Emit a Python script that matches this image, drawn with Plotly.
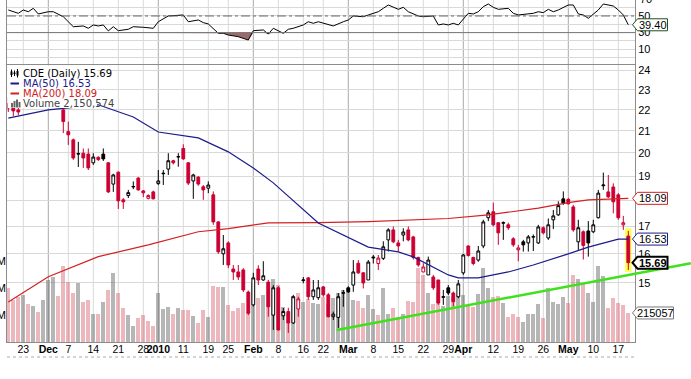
import math
import plotly.graph_objects as go

# ---------------- data ----------------
tick_idx = [3, 8, 12, 17, 22, 27, 30, 35, 40, 44, 49, 54, 59, 63, 68, 73, 78, 83, 88, 91, 92, 97, 102, 107, 112, 117, 122]
tick_text = ["23", "<b>Dec</b>", "7", "14", "21", "28", "<b>2010</b>", "11", "19", "25", "<b>Feb</b>", "8", "16", "22",
             "<b>Mar</b>", "8", "15", "22", "29", "<b>Apr</b>", "", "12", "19", "26", "<b>May</b>", "10", "17"]
month_idx = [8, 30, 49, 68, 91, 112]

opens = [22.3, 22.2, 22.0, 22.15, 22.4, 22.2, 22.6, 22.3, 22.9, 23.6,
         24.0, 22.0, 20.97, 20.59, 19.95, 19.99, 19.95, 19.57, 19.81, 19.95,
         19.57, 18.67, 19.17, 18.03, 18.2, 18.55, 18.92, 18.39, 18.09, 18.35,
         18.69, 19.1, 19.3, 19.66, 19.82, 20.2, 19.57, 18.8, 18.96, 18.56,
         18.5, 18.23, 17.17, 16.0, 16.39, 15.47, 15.37, 15.44, 14.7, 14.29,
         15.47, 15.1, 15.03, 13.97, 14.84, 13.95, 14.08, 13.73, 14.16, 15.08,
         15.17, 14.55, 14.52, 14.87, 14.61, 13.92, 13.9, 14.66, 14.84, 14.93,
         15.67, 15.34, 15.1, 15.85, 15.66, 15.84, 16.5, 16.87, 16.39, 16.68,
         16.87, 16.61, 15.87, 15.37, 15.27, 15.2, 15.1, 14.53, 14.84, 14.67,
         14.55, 15.34, 16.28, 15.87, 15.78, 16.28, 17.33, 17.56, 17.14, 17.12,
         17.06, 16.54, 16.14, 16.43, 16.39, 16.6, 16.39, 16.95, 16.57, 17.25,
         17.44, 18.07, 18.05, 17.75, 16.43, 16.8, 16.83, 16.8, 17.33, 18.6,
         18.35, 18.55, 18.23, 17.06, 16.64]
highs = [22.6, 22.5, 22.4, 22.6, 22.6, 22.8, 22.7, 23.0, 23.8, 24.2,
         24.1, 22.1, 21.44, 20.65, 20.5, 20.2, 20.2, 19.99, 19.85, 20.2,
         19.6, 19.1, 19.2, 18.1, 18.43, 18.78, 18.96, 18.43, 18.25, 18.4,
         19.26, 19.26, 19.99, 19.7, 19.99, 20.39, 19.6, 19.1, 19.0, 18.63,
         18.78, 18.37, 17.2, 16.68, 16.45, 15.61, 15.61, 15.5, 14.75, 15.34,
         15.6, 15.74, 15.1, 14.93, 14.9, 14.19, 14.2, 14.61, 14.55, 15.2,
         15.2, 15.1, 15.1, 14.9, 14.67, 14.08, 14.67, 14.77, 14.89, 15.78,
         15.78, 15.37, 15.78, 15.96, 15.96, 16.45, 16.93, 17.0, 16.5, 16.93,
         17.0, 16.65, 15.9, 15.67, 15.9, 15.27, 15.1, 14.77, 14.93, 14.72,
         15.1, 16.0, 16.3, 15.9, 16.28, 17.25, 17.63, 17.92, 17.14, 17.19,
         17.14, 16.6, 16.32, 16.5, 16.68, 16.7, 17.06, 17.0, 17.3, 17.63,
         17.97, 18.37, 18.1, 17.83, 17.25, 16.85, 17.2, 17.25, 18.43, 19.15,
         19.05, 18.7, 18.3, 17.4, 16.83]
lows = [21.9, 21.7, 21.75, 22.1, 22.1, 22.1, 22.2, 22.2, 22.8, 23.4,
        22.9, 20.9, 20.36, 19.7, 19.39, 19.35, 19.26, 19.48, 19.65, 19.65,
        18.3, 18.35, 17.67, 17.67, 18.1, 18.46, 18.4, 18.14, 18.05, 18.05,
        18.63, 18.63, 19.05, 19.5, 19.4, 19.7, 18.63, 18.07, 18.6, 18.03,
        18.3, 17.06, 16.0, 15.61, 15.5, 15.1, 15.1, 14.7, 13.97, 14.24,
        14.93, 15.07, 13.92, 13.52, 13.5, 13.82, 13.43, 13.7, 13.92, 14.99,
        14.45, 14.45, 14.45, 14.55, 13.9, 13.82, 13.58, 14.23, 14.67, 14.71,
        15.3, 14.82, 15.1, 15.66, 15.44, 15.78, 16.08, 16.38, 16.08, 16.45,
        16.45, 15.8, 15.55, 15.37, 15.27, 14.77, 14.29, 14.29, 14.6, 14.24,
        14.5, 15.27, 15.9, 15.6, 15.72, 16.2, 17.2, 17.0, 16.32, 16.5,
        16.87, 16.25, 15.74, 16.08, 16.08, 16.1, 16.35, 16.7, 16.5, 16.9,
        17.4, 17.83, 17.85, 16.8, 16.14, 15.8, 15.9, 16.75, 17.3, 18.43,
        18.1, 17.5, 17.25, 16.87, 15.44]
closes = [22.1, 21.95, 21.9, 22.4, 22.2, 22.6, 22.3, 22.9, 23.6, 24.0,
          23.1, 21.44, 20.82, 19.78, 19.97, 19.78, 19.35, 19.82, 19.71, 19.74,
          18.35, 19.05, 17.99, 17.95, 18.32, 18.57, 18.43, 18.31, 18.2, 18.07,
          18.8, 19.12, 19.66, 19.57, 19.84, 19.74, 18.71, 19.05, 18.67, 18.43,
          18.63, 17.17, 16.07, 16.18, 15.61, 15.37, 15.2, 14.77, 14.03, 15.17,
          15.1, 15.24, 14.23, 14.84, 13.52, 14.08, 13.73, 14.55, 14.48, 15.1,
          14.55, 14.77, 14.84, 14.61, 13.92, 14.0, 14.55, 14.68, 14.71, 15.37,
          15.34, 15.0, 15.71, 15.88, 15.85, 16.25, 16.87, 16.43, 16.28, 16.79,
          16.5, 15.87, 15.61, 15.54, 15.78, 14.84, 14.35, 14.55, 14.67, 14.39,
          14.97, 15.96, 15.94, 15.66, 16.1, 17.17, 17.52, 17.06, 16.76, 17.14,
          16.95, 16.32, 16.21, 16.32, 16.61, 16.62, 16.98, 16.76, 17.06, 17.4,
          17.8, 17.9, 17.87, 16.87, 16.95, 16.3, 16.39, 17.06, 18.3, 18.63,
          18.15, 17.95, 17.33, 17.14, 15.69]
volumes_m = [3.98, 3.1, 3.36, 3.5, 2.8, 2.67, 2.2, 3.1, 4.6, 4.84,
             3.4, 5.6, 4.47, 3.6, 4.35, 3.0, 3.1, 2.1, 2.1, 3.0,
             3.85, 5.1, 3.6, 2.54, 2.0, 1.19, 1.8, 2.0, 1.58, 1.2,
             3.6, 2.47, 2.6, 2.05, 2.5, 2.37, 2.4, 1.93, 1.4, 2.37,
             1.83, 4.15, 4.1, 4.05, 2.77, 2.3, 2.5, 2.87, 2.25, 4.35,
             3.24, 3.48, 4.47, 4.64, 4.22, 2.6, 2.1, 3.4, 3.6, 3.0,
             3.16, 2.9, 2.8, 3.36, 2.8, 3.24, 3.6, 3.85, 3.98, 3.1,
             3.06, 2.5, 3.48, 2.42, 2.0, 3.98, 2.1, 2.5, 1.87, 2.07,
             3.06, 3.0, 5.46, 4.96, 3.6, 2.8, 3.6, 2.67, 3.4, 3.36,
             3.48, 3.48, 2.74, 2.6, 3.56, 5.46, 3.98, 3.36, 3.4, 2.9,
             1.87, 2.1, 1.87, 1.5, 2.07, 2.1, 2.8, 1.75, 3.98, 3.0,
             2.8, 3.36, 2.87, 5.0, 4.7, 4.3, 3.6, 3.0, 5.63, 4.9,
             2.5, 3.24, 2.9, 2.74, 2.150574]

ma50_idx = [0, 8, 18, 25, 30, 38, 44, 49, 53, 57, 62, 72, 78, 81, 85, 88, 90, 94, 100, 105, 112, 116, 122, 124]
ma50_val = [21.6, 22.0, 22.25, 21.66, 20.95, 20.68, 20.05, 19.35, 18.72, 18.0, 17.13, 16.24, 16.07, 15.89,
            15.54, 15.27, 15.17, 15.17, 15.37, 15.61, 16.0, 16.24, 16.53, 16.53]
ma200_idx = [0, 8, 18, 28, 38, 44, 52, 62, 72, 82, 88, 96, 106, 112, 116, 124]
ma200_val = [14.38, 15.21, 15.9, 16.32, 16.8, 16.92, 17.13, 17.14, 17.18, 17.27, 17.3, 17.44, 17.7, 17.92, 18.03, 18.09]

rsi_idx = [0, 2, 3, 4, 5, 6, 8, 9, 11, 12, 13, 15, 16, 17, 18, 19, 20, 21, 22, 24,
           25, 27, 29, 30, 32, 35, 36, 38, 39, 40, 42, 43, 44, 46, 48, 49, 51, 52, 53, 55,
           56, 57, 59, 60, 61, 62, 64, 65, 67, 68, 69, 71, 72, 74, 75, 76, 78, 79, 80, 82,
           83, 85, 86, 87, 88, 89, 90, 92, 93, 94, 95, 96, 97, 98, 100, 101, 102, 104, 105, 106,
           107, 108, 109, 110, 111, 112, 113, 114, 115, 116, 118, 119, 121, 122, 123, 124]
rsi_val = [57.2, 53.2, 57.2, 55.1, 59.2, 52.4, 55.1, 55.1, 49.1, 43.1, 37.1, 38.0, 35.2, 39.2, 38.0, 39.2, 32.0, 37.1, 32.3, 34.0,
           37.1, 36.4, 35.2, 43.1, 50.0, 51.2, 43.1, 45.2, 42.0, 40.4, 29.2, 29.2, 27.1, 25.1, 21.1, 32.3, 33.2, 28.3, 35.2, 29.2,
           34.0, 35.2, 39.2, 43.1, 41.2, 43.1, 39.2, 38.0, 43.1, 45.2, 50.0, 49.1, 51.2, 55.1, 59.2, 63.2, 58.0, 60.4, 55.1, 50.0,
           49.1, 50.0, 39.2, 40.4, 39.2, 41.2, 39.2, 53.2, 52.4, 55.1, 61.2, 64.4, 60.4, 58.0, 59.2, 53.2, 51.2, 52.4, 53.2, 55.1,
           54.0, 58.0, 55.1, 57.2, 60.4, 63.2, 63.2, 52.4, 51.2, 47.2, 57.2, 64.4, 62.0, 57.2, 51.2, 39.4]

trend_idx = [65.7, 136.5]
trend_price = [13.52, 15.67]

price_ticks = [15, 16, 17, 18, 19, 20, 21, 22, 23, 24]
rsi_ticks = [10, 30, 50]
vol_ticks = [2, 4, 6]

# ---------------- geometry / style ----------------
W, H = 691, 379
ML, MR, MT, MB = 7, 56, 0, 37
PW, PH = W - ML - MR, H - MT - MB
X_RANGE = [-0.26, 125.34]
PRICE_RANGE = [13.163, 24.30]
VOL_RANGE = [0, 20.52]
RSI_RANGE = [-8.9, 69.2]
PRICE_DOM = [0.0, 0.81]
RSI_DOM = [0.81, 1.0]

RED = "#cc0033"
NAVY = "#1b1b8a"
MA200C = "#d42020"
GRID = "#d9d9d9"
MGRID = "#a9a9a9"
BORDER = "#8c8c8c"
AXFONT = dict(family="Liberation Sans, Arial, sans-serif", size=11, color="black")
XFONT = dict(family="Liberation Sans, Arial, sans-serif", size=10.5, color="black")
LEGFONT = "DejaVu Sans, Verdana, sans-serif"

lp0, lp1 = math.log10(PRICE_RANGE[0]), math.log10(PRICE_RANGE[1])


def px_x(px):
    return (px - ML) / PW


def px_y(py):
    return (H - MB - py) / PH


def paper_to_py(yp):
    return H - MB - yp * PH


def idx_x(i):
    return (i - X_RANGE[0]) / (X_RANGE[1] - X_RANGE[0])


def price_y(p):
    return PRICE_DOM[0] + (math.log10(p) - lp0) / (lp1 - lp0) * (PRICE_DOM[1] - PRICE_DOM[0])


def vol_y(v):
    return PRICE_DOM[0] + (v - VOL_RANGE[0]) / (VOL_RANGE[1] - VOL_RANGE[0]) * (PRICE_DOM[1] - PRICE_DOM[0])


def rsi_y(r):
    return RSI_DOM[0] + (r - RSI_RANGE[0]) / (RSI_RANGE[1] - RSI_RANGE[0]) * (RSI_DOM[1] - RSI_DOM[0])


n = len(closes)
prev = [opens[0]] + closes[:-1]
xs = list(range(n))

fig = go.Figure()

# volume bars (base axis of the price panel)
vol_colors = ["rgba(110,110,110,0.5)" if closes[i] >= prev[i] else "rgba(215,95,110,0.45)" for i in range(n)]
fig.add_trace(go.Bar(x=xs, y=volumes_m, width=0.82, marker=dict(color=vol_colors, line=dict(width=0)),
                     xaxis="x2", yaxis="y2", hoverinfo="skip"))

# candles: hollow/filled by close vs open, black/red by close vs previous close
styles = [(True, False, "white", "black"), (False, False, "black", "black"),
          (True, True, "white", RED), (False, True, RED, RED)]
for hollow, red, fc, lc in styles:
    sel = [i for i in range(n) if (closes[i] >= opens[i]) == hollow and (closes[i] < prev[i]) == red]
    if not sel:
        continue
    st = dict(line=dict(color=lc, width=1), fillcolor=fc)
    fig.add_trace(go.Candlestick(x=sel, open=[opens[i] for i in sel], high=[highs[i] for i in sel],
                                 low=[lows[i] for i in sel], close=[closes[i] for i in sel],
                                 increasing=st, decreasing=st, whiskerwidth=0,
                                 xaxis="x2", yaxis="y3", hoverinfo="skip"))

fig.add_trace(go.Scatter(x=ma200_idx, y=ma200_val, mode="lines", line=dict(color=MA200C, width=1.2),
                         xaxis="x2", yaxis="y3", hoverinfo="skip"))
fig.add_trace(go.Scatter(x=ma50_idx, y=ma50_val, mode="lines", line=dict(color=NAVY, width=1.2),
                         xaxis="x2", yaxis="y3", hoverinfo="skip"))

# RSI panel
fig.add_trace(go.Scatter(x=rsi_idx, y=[30] * len(rsi_idx), mode="lines", line=dict(width=0),
                         xaxis="x", yaxis="y", hoverinfo="skip"))
fig.add_trace(go.Scatter(x=rsi_idx, y=[min(v, 30) for v in rsi_val], mode="lines", line=dict(width=0),
                         fill="tonexty", fillcolor="#9b6b6b", xaxis="x", yaxis="y", hoverinfo="skip"))
fig.add_trace(go.Scatter(x=rsi_idx, y=rsi_val, mode="lines", line=dict(color="black", width=1),
                         xaxis="x", yaxis="y", hoverinfo="skip"))

shapes = []
# vertical grid (weeks light, months darker)
for i in tick_idx:
    shapes.append(dict(type="line", xref="x2", yref="paper", x0=i, x1=i, y0=0, y1=1, layer="below",
                       line=dict(color=MGRID if i in month_idx else GRID, width=1)))
# RSI reference lines
shapes.append(dict(type="line", xref="paper", yref="y", x0=0, x1=1, y0=50, y1=50,
                   line=dict(color="#666666", width=1, dash="dashdot")))
shapes.append(dict(type="line", xref="paper", yref="y", x0=0, x1=1, y0=30, y1=30,
                   line=dict(color="#777777", width=1)))
# yellow highlight behind last candle
shapes.append(dict(type="rect", xref="x2", yref="paper", x0=n - 1.65, x1=n - 0.35,
                   y0=price_y(lows[-1]) - 0.006, y1=price_y(highs[-1]) + 0.008,
                   fillcolor="#ffff55", line=dict(width=0), layer="below"))
# trend line
shapes.append(dict(type="line", xref="paper", yref="paper",
                   x0=idx_x(trend_idx[0]), y0=price_y(trend_price[0]),
                   x1=idx_x(trend_idx[1]), y1=price_y(trend_price[1]),
                   line=dict(color="#3fe01c", width=2.5), layer="above"))
# dotted top of next (cut off) panel
shapes.append(dict(type="line", xref="paper", yref="paper", x0=0, x1=1, y0=px_y(357), y1=px_y(357),
                   line=dict(color="#aaaaaa", width=1, dash="dot")))
# legend box
shapes.append(dict(type="rect", xref="paper", yref="paper", x0=px_x(7.5), x1=px_x(97), y0=px_y(108), y1=px_y(65.5),
                   fillcolor="white", line=dict(width=0), layer="above"))
# legend icons
shapes.append(dict(type="line", xref="paper", yref="paper", x0=px_x(10.5), x1=px_x(19), y0=px_y(83.5), y1=px_y(83.5),
                   line=dict(color=NAVY, width=2), layer="above"))
shapes.append(dict(type="line", xref="paper", yref="paper", x0=px_x(10.5), x1=px_x(19), y0=px_y(93.5), y1=px_y(93.5),
                   line=dict(color=MA200C, width=2), layer="above"))
for k, (x0, top, bot) in enumerate([(11, 69.5, 77), (14, 70.5, 76), (17, 69, 77.5)]):
    shapes.append(dict(type="line", xref="paper", yref="paper", x0=px_x(x0 + 0.5), x1=px_x(x0 + 0.5),
                       y0=px_y(top), y1=px_y(bot), line=dict(color="black", width=1), layer="above"))
    shapes.append(dict(type="rect", xref="paper", yref="paper", x0=px_x(x0 - 0.5), x1=px_x(x0 + 1.5),
                       y0=px_y(top + 2), y1=px_y(bot - 2), fillcolor="black", line=dict(width=0), layer="above"))
for k, (x0, top) in enumerate([(11, 103), (13.5, 101), (16, 99.5), (18.5, 102)]):
    shapes.append(dict(type="rect", xref="paper", yref="paper", x0=px_x(x0), x1=px_x(x0 + 2),
                       y0=px_y(107.5), y1=px_y(top), fillcolor="#666666", line=dict(width=0), layer="above"))

annotations = []


def add_tag(yc_paper, text, color, width_px, bold=False, lw=1):
    yc = paper_to_py(yc_paper)
    h = 6
    xt, xb0, xb1 = 632.5, 637.5, 637.5 + width_px
    pts = [(xt, yc), (xb0, yc - h), (xb1, yc - h), (xb1, yc + h), (xb0, yc + h)]
    path = "M " + " L ".join(f"{px_x(a):.5f},{px_y(b):.5f}" for a, b in pts) + " Z"
    shapes.append(dict(type="path", xref="paper", yref="paper", path=path, fillcolor="white",
                       line=dict(color=color, width=lw), layer="above"))
    annotations.append(dict(x=px_x((xb0 + xb1) / 2), y=px_y(yc), xref="paper", yref="paper", showarrow=False,
                            text=f"<b>{text}</b>" if bold else text, xanchor="center", yanchor="middle",
                            font=dict(family="Liberation Sans, Arial, sans-serif", size=11, color="black")))


add_tag(price_y(ma200_val[-1]), f"{ma200_val[-1]:.2f}", MA200C, 30)
add_tag(price_y(ma50_val[-1]), f"{ma50_val[-1]:.2f}", NAVY, 30)
add_tag(price_y(closes[-1]), f"{closes[-1]:.2f}", "black", 30, bold=True, lw=2)
add_tag(vol_y(volumes_m[-1]), f"{int(volumes_m[-1] * 1e5)}", "#777777", 36)
add_tag(rsi_y(rsi_val[-1]), f"{rsi_val[-1]:.2f}", "#1f4f1f", 30)

# legend texts
leg = [(73.3, f"CDE (Daily) {closes[-1]:.2f}", "black"),
       (83.6, f"MA(50) {ma50_val[-1]:.2f}", NAVY),
       (93.6, f"MA(200) {ma200_val[-1]:.2f}", MA200C),
       (103.6, f"Volume {int(round(volumes_m[-1] * 1e6)):,}", "#444444")]
for py, txt, col in leg:
    annotations.append(dict(x=px_x(20.5), y=px_y(py), xref="paper", yref="paper", showarrow=False, text=txt,
                            xanchor="left", yanchor="middle", font=dict(family=LEGFONT, size=10, color=col)))
# "70" label cut at the top edge
annotations.append(dict(x=1, y=rsi_y(70), xref="paper", yref="paper", showarrow=False, text="70",
                        xanchor="left", yanchor="middle", xshift=3, font=AXFONT))

fig.update_layout(
    width=W, height=H, template="none",
    margin=dict(l=ML, r=MR, t=MT, b=MB, pad=0),
    paper_bgcolor="white", plot_bgcolor="rgba(0,0,0,0)", showlegend=False,
    boxgap=0.2, bargap=0,
    xaxis=dict(domain=[0, 1], anchor="y", range=X_RANGE, matches="x2", showticklabels=False, showgrid=False,
               zeroline=False, showline=False, ticks=""),
    yaxis=dict(domain=RSI_DOM, anchor="x", range=RSI_RANGE, side="right", tickvals=rsi_ticks, showgrid=True,
               gridcolor=GRID, zeroline=False, showline=True, mirror=True, linecolor=BORDER, ticks="",
               tickfont=AXFONT, automargin=False,
               minor=dict(tickvals=[0, 20, 40, 60], showgrid=True, gridcolor=GRID)),
    xaxis2=dict(domain=[0, 1], anchor="y2", range=X_RANGE, tickvals=tick_idx, ticktext=tick_text, showgrid=False,
                zeroline=False, showline=True, mirror=True, linecolor=BORDER, ticks="", tickfont=XFONT,
                rangeslider=dict(visible=False), automargin=False, tickangle=0, ticklabelstandoff=-3),
    yaxis2=dict(domain=PRICE_DOM, anchor="x2", range=VOL_RANGE, side="left", tickvals=vol_ticks,
                ticktext=[f"{v}M" for v in vol_ticks], showgrid=False, zeroline=False, showline=False, ticks="",
                tickfont=AXFONT, automargin=False),
    yaxis3=dict(overlaying="y2", anchor="x2", side="right", type="log", range=[lp0, lp1], tickvals=price_ticks,
                ticktext=[str(v) for v in price_ticks], showgrid=True, gridcolor=GRID, zeroline=False,
                showline=True, mirror=True, linecolor=BORDER, ticks="", tickfont=AXFONT, automargin=False),
    shapes=shapes, annotations=annotations,
)

fig.write_html("out.html", config={"displayModeBar": False},
               post_script="document.body.style.margin='0px';document.body.style.overflow='hidden';")
